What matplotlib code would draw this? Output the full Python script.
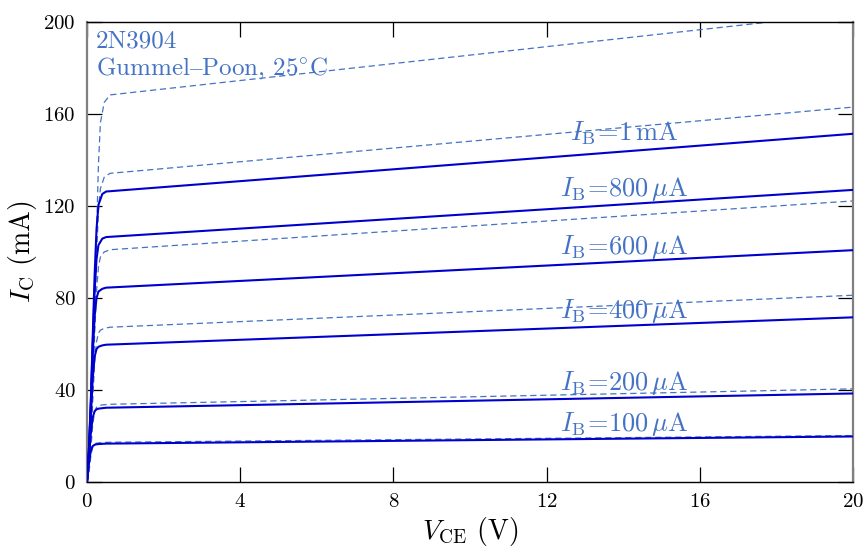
import matplotlib
matplotlib.use("Agg")
import matplotlib.pyplot as plt

plt.rcParams['font.family'] = ['cmr10', 'STIXGeneral', 'DejaVu Serif']
plt.rcParams['mathtext.fontset'] = 'cm'
plt.rcParams['axes.formatter.use_mathtext'] = True

SOLID_COLOR = '#0000cd'
GP_COLOR = '#4472c4'

# collector current (mA) vs V_CE (V)
v_solid = [0, 0.05, 0.1, 0.15, 0.2, 0.25, 0.3, 0.4, 0.5, 20]
ic_100u = [0, 8.0, 13.5, 15.6, 16.2, 16.4, 16.5, 16.6, 16.7, 19.8]
ic_200u = [0, 10.0, 21.0, 28.0, 30.8, 31.6, 31.9, 32.1, 32.3, 38.5]
ic_400u = [0, 12.0, 28.0, 45.0, 54.5, 57.8, 58.8, 59.4, 59.7, 71.6]
ic_600u = [0, 13.0, 32.0, 55.0, 72.0, 80.0, 82.8, 84.0, 84.5, 100.8]
ic_800u = [0, 13.5, 34.0, 60.0, 83.0, 97.0, 103.0, 105.8, 106.5, 127.0]
ic_1m = [0, 14.0, 35.0, 63.0, 90.0, 110.0, 120.5, 125.2, 126.3, 151.4]

# Gummel-Poon model curves (dashed)
v_gp = [0, 0.05, 0.1, 0.15, 0.2, 0.25, 0.3, 0.35, 0.45, 0.6, 20]
gp_100u = [0, 4.0, 11.0, 15.5, 16.6, 16.9, 17.0, 17.1, 17.2, 17.3, 20.2]
gp_200u = [0, 5.0, 14.0, 25.0, 30.5, 32.5, 33.1, 33.4, 33.6, 33.8, 40.5]
gp_400u = [0, 5.5, 17.0, 35.0, 52.0, 61.0, 64.8, 66.0, 66.8, 67.3, 81.2]
gp_600u = [0, 6.0, 18.0, 40.0, 64.0, 83.0, 93.5, 97.8, 100.0, 101.0, 122.2]
gp_800u = [0, 6.0, 18.5, 42.0, 70.0, 98.0, 118.0, 127.5, 132.5, 134.2, 163.0]
gp_1m = [0, 6.0, 19.0, 43.0, 74.0, 108.0, 138.0, 156.0, 165.0, 168.3, 204.0]

labels = [r'$I_{\rm B}\!=\!100\,\mu{\rm A}$', r'$I_{\rm B}\!=\!200\,\mu{\rm A}$',
          r'$I_{\rm B}\!=\!400\,\mu{\rm A}$', r'$I_{\rm B}\!=\!600\,\mu{\rm A}$',
          r'$I_{\rm B}\!=\!800\,\mu{\rm A}$', r'$I_{\rm B}\!=\!1\,{\rm mA}$']
label_x = [12.35, 12.35, 12.35, 12.35, 12.35, 12.6]
label_y = [22.3, 40.0, 71.5, 99.1, 124.3, 148.4]

x_ticks = [0, 4, 8, 12, 16, 20]
y_ticks = [0, 40, 80, 120, 160, 200]

fig = plt.figure(figsize=(8.67, 5.5), dpi=100)
ax = fig.add_axes([0.1003, 0.1236, 0.8836, 0.8364])

for ic in [gp_100u, gp_200u, gp_400u, gp_600u, gp_800u, gp_1m]:
    ax.plot(v_gp, ic, color=GP_COLOR, lw=0.9, dashes=(5, 3), zorder=2)
for ic in [ic_100u, ic_200u, ic_400u, ic_600u, ic_800u, ic_1m]:
    ax.plot(v_solid, ic, color=SOLID_COLOR, lw=1.5, zorder=3)

for lx, ly, txt in zip(label_x, label_y, labels):
    ax.text(lx, ly, txt, color=GP_COLOR, fontsize=19, ha='left', va='baseline', zorder=4)

ax.text(0.012, 0.945, '2N3904', transform=ax.transAxes, color=GP_COLOR,
        fontsize=18, ha='left', va='baseline')
ax.text(0.012, 0.884, r'Gummel$\mathrm{–}$Poon, 25$^{\circ}$C', transform=ax.transAxes,
        color=GP_COLOR, fontsize=18, ha='left', va='baseline')

ax.set_xlim(0, 20)
ax.set_ylim(0, 200)
ax.set_xticks(x_ticks)
ax.set_yticks(y_ticks)
ax.tick_params(direction='in', length=11, width=0.9, labelsize=15,
               top=True, right=True, pad=8)

for side in ['left', 'right']:
    ax.spines[side].set_color('#808080')
    ax.spines[side].set_linewidth(1.6)
for side in ['top', 'bottom']:
    ax.spines[side].set_color('black')
    ax.spines[side].set_linewidth(1.0)
for t in ax.yaxis.get_major_ticks():
    t.tick2line.set_color('#666666')

ax.set_xlabel(r'$V_{\rm CE}$ (V)', fontsize=20)
ax.set_ylabel(r'$I_{\rm C}$ (mA)', fontsize=20)
ax.xaxis.set_label_coords(0.5, -0.071)
ax.yaxis.set_label_coords(-0.0627, 0.5)

fig.savefig('out.png', dpi=100)
